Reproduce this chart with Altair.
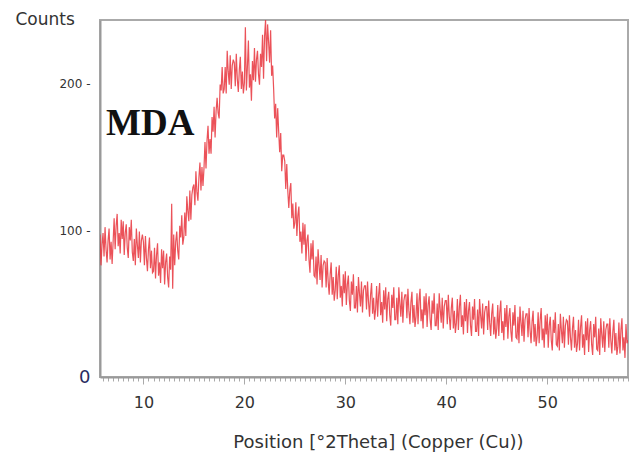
import altair as alt
import pandas as pd

# XRD pattern, counts at 0.1 deg steps starting at 5.7 deg 2Theta
start_angle = 5.7
step_angle = 0.1

counts_low = [
    97, 76, 90,                                    # 5.7-5.9
    98, 82, 102, 87, 78, 93, 101, 80, 92, 77,      # 6
    92, 108, 87, 103, 111, 89, 98, 84, 107, 94,    # 7
    106, 83, 98, 104, 88, 81, 102, 93, 107, 85,    # 8
    79, 94, 76, 101, 90, 81, 99, 78, 93, 97,       # 9
    92, 76, 96, 81, 72, 87, 95, 74, 86, 71,        # 10
    72, 88, 67, 83, 91, 69, 78, 64, 87, 74,        # 11
    86, 63, 78, 84, 68, 61, 82, 73, 118, 60,       # 12
]
counts_peak = [
    97, 76, 92, 99, 86, 80, 103, 95, 110, 90,      # 13
    95, 112, 96, 123, 113, 106, 127, 107, 124, 129,  # 14
    131, 117, 140, 126, 120, 136, 146, 127, 143, 130,  # 15
    142, 160, 142, 161, 171, 152, 162, 152, 177, 167,  # 16
    184, 163, 181, 190, 180, 176, 199, 195, 211, 193,  # 17
    196, 211, 193, 222, 208, 199, 219, 196, 212, 216,  # 18
    214, 198, 220, 203, 194, 209, 218, 196, 208, 193,  # 19
    200, 238, 195, 211, 229, 197, 206, 188, 215, 202,  # 20
    224, 201, 216, 222, 206, 199, 220, 211, 233, 203,  # 21
    232, 243, 215, 240, 228, 214, 236, 205, 212, 196,  # 22
    176, 186, 163, 183, 167, 153, 166, 140, 151, 151,  # 23
    147, 128, 145, 127, 115, 127, 132, 108, 118, 101,  # 24
]
counts_tail = [
    105, 119, 96, 110, 116, 92, 99, 84, 105, 90,   # 25
    104, 79, 93, 97, 80, 71, 91, 80, 93, 69,       # 26
    68, 82, 63, 87, 76, 66, 83, 61, 76, 79,        # 27
    78, 61, 81, 65, 56, 70, 78, 56, 68, 52,        # 28
    59, 75, 53, 69, 76, 54, 62, 48, 70, 57,        # 29
    72, 49, 63, 69, 52, 45, 65, 56, 70, 47,        # 30
    47, 62, 44, 68, 57, 48, 65, 44, 59, 62,        # 31
    62, 46, 65, 51, 41, 56, 64, 43, 54, 39,        # 32
    46, 62, 41, 56, 64, 42, 51, 37, 59, 46,        # 33
    61, 38, 53, 58, 42, 35, 56, 47, 61, 39,        # 34
    39, 54, 36, 61, 50, 41, 58, 37, 52, 56,        # 35
    56, 40, 60, 45, 36, 51, 58, 37, 49, 34,        # 36
    41, 57, 36, 52, 60, 38, 46, 33, 55, 42,        # 37
    57, 34, 49, 55, 39, 32, 52, 43, 57, 35,        # 38
    35, 50, 32, 57, 46, 37, 54, 33, 48, 52,        # 39
    52, 36, 56, 41, 32, 47, 54, 33, 45, 30,        # 40
    37, 53, 32, 48, 56, 34, 42, 29, 51, 38,        # 41
    53, 30, 45, 51, 35, 28, 48, 39, 53, 31,        # 42
    31, 46, 28, 53, 42, 33, 50, 29, 44, 48,        # 43
    48, 32, 52, 37, 28, 43, 50, 29, 41, 26,        # 44
    33, 49, 28, 44, 52, 30, 38, 25, 47, 34,        # 45
    49, 26, 41, 47, 31, 24, 44, 35, 49, 27,        # 46
    26, 41, 23, 48, 37, 28, 45, 24, 39, 43,        # 47
    43, 27, 47, 32, 23, 38, 45, 24, 36, 21,        # 48
    28, 44, 23, 39, 47, 25, 33, 20, 42, 29,        # 49
    43, 20, 35, 41, 25, 18, 39, 30, 44, 22,        # 50
    21, 36, 18, 43, 32, 23, 41, 20, 35, 39,        # 51
    38, 22, 42, 27, 18, 33, 41, 20, 32, 17,        # 52
    23, 39, 18, 34, 42, 20, 29, 15, 38, 25,        # 53
    40, 17, 32, 38, 22, 15, 36, 27, 41, 19,        # 54
    18, 33, 15, 40, 29, 20, 38, 17, 32, 36,        # 55
    36, 20, 40, 25, 16, 31, 39, 18, 30, 15,        # 56
    21, 37, 16, 32, 40, 18, 27, 13, 36, 23,        # 57
    25,                                            # 58.0
]

x_ticks_major = [10, 20, 30, 40, 50]
x_ticks_minor = [i / 2 for i in range(12, 117)]
y_ticks = [0, 100, 200]
x_domain = [5.7, 58.0]
y_domain = [0, 243]

label_text = ["MDA"]
label_x = [6.3]
label_y = [165]

counts = counts_low + counts_peak + counts_tail
angles = [round(start_angle + step_angle * i, 1) for i in range(len(counts))]
df = pd.DataFrame({"angle": angles, "counts": counts})
df_label = pd.DataFrame({"text": label_text, "x": label_x, "y": label_y})

x_scale = alt.Scale(domain=x_domain, nice=False, zero=False)
y_scale = alt.Scale(domain=y_domain, nice=False)

x_axis = alt.Axis(
    values=x_ticks_major,
    orient="bottom",
    labelFont="DejaVu Sans",
    labelFontSize=16,
    labelColor="#333333",
    labelPadding=10,
    tickColor="#aaaaaa",
    tickSize=7,
    tickWidth=1,
    domainColor="#999999",
    domainWidth=2,
    grid=False,
    title="Position [°2Theta] (Copper (Cu))",
    titleFont="DejaVu Sans",
    titleFontSize=18,
    titleFontWeight="normal",
    titleColor="#333333",
    titleBaseline="alphabetic",
    titleAlign="center",
    titleX=278,
    titleY=70,
)

x_axis_minor = alt.Axis(
    values=x_ticks_minor,
    orient="bottom",
    labels=False,
    domain=False,
    tickColor="#aaaaaa",
    tickSize=4,
    tickWidth=1,
    grid=False,
    title=None,
)

y_axis = alt.Axis(
    values=y_ticks,
    labelExpr="datum.value == 0 ? '0' : datum.label + ' -'",
    labelFont="DejaVu Sans",
    labelFontSize={"condition": {"test": "datum.value == 0", "value": 18}, "value": 12},
    labelColor={"condition": {"test": "datum.value == 0", "value": "#2b2b5e"}, "value": "#333333"},
    labelPadding=10,
    ticks=False,
    domainColor="#999999",
    domainWidth=2,
    grid=False,
    title="Counts",
    titleFont="DejaVu Sans",
    titleFontSize=17,
    titleFontWeight="normal",
    titleColor="#333333",
    titleAngle=0,
    titleAlign="left",
    titleBaseline="alphabetic",
    titleX=-85,
    titleY=4,
)

minor = alt.Chart(df).mark_point(opacity=0).encode(
    x=alt.X("angle:Q", scale=x_scale, axis=x_axis_minor),
    y=alt.Y("counts:Q", scale=y_scale),
)

line = alt.Chart(df).mark_line(color="#e8343c", strokeWidth=1.2, opacity=0.85, clip=True).encode(
    x=alt.X("angle:Q", scale=x_scale, axis=x_axis),
    y=alt.Y("counts:Q", scale=y_scale, axis=y_axis),
)

label = alt.Chart(df_label).mark_text(
    font="Liberation Serif",
    fontSize=37,
    fontWeight="bold",
    color="#111111",
    align="left",
    baseline="alphabetic",
).encode(
    x=alt.X("x:Q", scale=x_scale, axis=None),
    y=alt.Y("y:Q", scale=y_scale),
    text="text:N",
)

chart = (
    alt.layer(minor, line, label)
    .resolve_scale(x="independent")
    .resolve_axis(x="independent")
    .properties(
        width=528,
        height=357,
        autosize=alt.AutoSizeParams(type="none"),
        padding={"left": 100, "top": 20, "right": 7, "bottom": 80},
        background="white",
    )
    .configure_view(stroke="#aaaaaa", strokeWidth=2)
)

chart.save("out.html", embed_options={"renderer": "svg", "actions": False})
